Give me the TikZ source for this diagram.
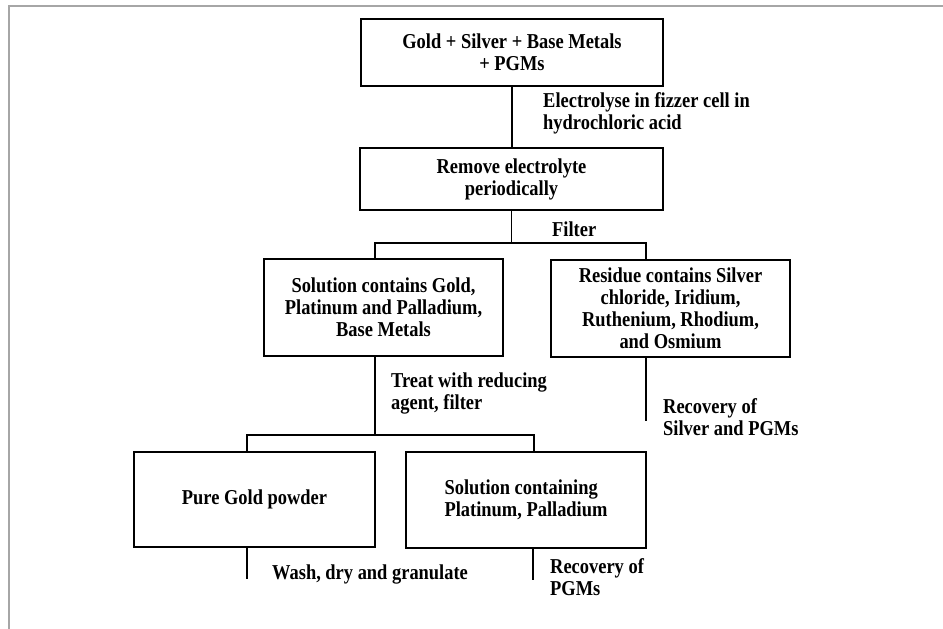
\documentclass[tikz,border=0pt]{standalone}
\usepackage{fontspec}
\setmainfont{Liberation Serif}[FakeStretch=0.87]
\begin{document}
\begin{tikzpicture}[x=1pt, y=-1pt,
    every node/.style = {font=\bfseries\fontsize{21.2}{22}\selectfont},
    box/.style = {shape=rectangle, draw, line width=1.3pt, align=center, inner sep=0pt},
    note/.style = {anchor=west, align=left, inner sep=0pt},
    link/.style = {line width=1.2pt}]
  \useasboundingbox (0,0) rectangle (943,629);
  \draw[black!35, line width=2pt] (943,6) -- (9,6) -- (9,629);
  % boxes
  \node[box, minimum width=302, minimum height=67] (feed) at (512,52.5) {Gold + Silver + Base Metals\\+ PGMs};
  \node[box, minimum width=303, minimum height=62] (strip) at (511.5,179) {Remove electrolyte\\periodically};
  \node[box, minimum width=239, minimum height=97] (sol) at (383.5,307.5) {Solution contains Gold,\\Platinum and Palladium,\\Base Metals};
  \node[box, minimum width=239, minimum height=97] (res) at (670.5,308.5) {Residue contains Silver\\chloride, Iridium,\\Ruthenium, Rhodium,\\and Osmium};
  \node[box, minimum width=241, minimum height=95] (gold) at (254.5,499.5) {Pure Gold powder};
  \node[box, align=left, minimum width=240, minimum height=96] (pgm) at (526,500) {Solution containing\\Platinum, Palladium};
  % step texts
  \node[note] (elec) at (543,113) {Electrolyse in fizzer cell in\\hydrochloric acid};
  \node[note] (filt) at (552,229) {Filter};
  \node[note] (treat) at (391,393) {Treat with reducing\\agent, filter};
  \node[note] (recag) at (663,417.5) {Recovery of\\Silver and PGMs};
  \node[note] (wash) at (272,574) {Wash, dry and granulate};
  \node[note] (recpgm) at (550,577.5) {Recovery of\\PGMs};
  % junctions and free ends
  \coordinate (fl) at (375,243);
  \coordinate (fr) at (646,243);
  \coordinate (tl) at (247,435);
  \coordinate (tr) at (534,435);
  \coordinate (resend) at (646,421);
  \coordinate (goldend) at (247,579);
  \coordinate (pgmend) at (533,580);
  % connectors
  \draw[link] (feed.south) -- (feed.south |- strip.north);
  \draw[link] (strip.south) -- (strip.south |- fl);
  \draw[link] (sol.north -| fl) -- (fl) -- (fr) -- (res.north -| fr);
  \draw[link] (sol.south -| fl) -- (fl |- tl);
  \draw[link] (gold.north -| tl) -- (tl) -- (tr) -- (pgm.north -| tr);
  \draw[link] (res.south -| resend) -- (resend);
  \draw[link] (gold.south -| goldend) -- (goldend);
  \draw[link] (pgm.south -| pgmend) -- (pgmend);
\end{tikzpicture}
\end{document}
